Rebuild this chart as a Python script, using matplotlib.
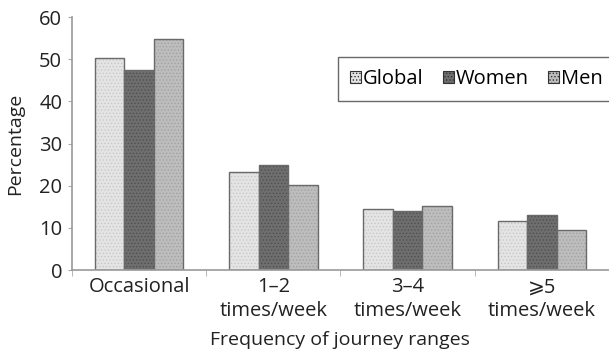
import matplotlib
matplotlib.use('Agg')
import matplotlib.pyplot as plt
import numpy as np

plt.rcParams['font.family'] = ['Open Sans', 'DejaVu Sans']
plt.rcParams['hatch.linewidth'] = 0.6

# share of journeys per frequency range
categories = ['Occasional', '1\u20132\ntimes/week', '3\u20134\ntimes/week', '\u2a7e5\ntimes/week']
global_pct = [50.2, 23.3, 14.4, 11.7]
women_pct = [47.4, 25.0, 14.0, 13.1]
men_pct = [54.7, 20.1, 15.2, 9.5]

series = [
    ('Global', global_pct, '#e4e4e4', '#c8c8c8'),
    ('Women', women_pct, '#6e6e6e', '#505050'),
    ('Men', men_pct, '#bdbdbd', '#a2a2a2'),
]

fig = plt.figure(figsize=(6.09, 3.55), dpi=100)
ax = fig.add_axes([0.118, 0.239, 0.882, 0.713])

x = np.arange(len(categories))
w = 0.22
for i, (name, vals, fc, hc) in enumerate(series):
    pos = x + (i - 1) * w
    # fill with a fine dot texture, then a plain outline on top
    ax.bar(pos, vals, w, color=fc, edgecolor=hc, hatch='.....', linewidth=0, label=name)
    ax.bar(pos, vals, w, fill=False, edgecolor='#6a6a6a', linewidth=1.0)

ax.set_xlim(-0.5, 3.5)
ax.set_ylim(0, 60)
ax.set_yticks([0, 10, 20, 30, 40, 50, 60])
ax.set_xticks(x)
ax.set_xticklabels(categories, linespacing=1.25)
ax.set_xticks(np.arange(-0.5, 4.0, 1.0), minor=True)
ax.tick_params(axis='x', which='major', length=0, pad=5, labelsize=14.5, colors='#222222')
ax.tick_params(axis='x', which='minor', length=4, color='#aaaaaa')
ax.tick_params(axis='y', length=3, width=0.8, color='#aaaaaa', pad=4, labelsize=14.5,
               labelcolor='#222222')

for s in ['top', 'right']:
    ax.spines[s].set_visible(False)
ax.spines['left'].set_color('#999999')
ax.spines['bottom'].set_color('#999999')
ax.spines['left'].set_linewidth(1.2)
ax.spines['bottom'].set_linewidth(1.2)

ax.set_ylabel('Percentage', fontsize=14, color='#222222')
ax.set_xlabel('Frequency of journey ranges', fontsize=14, color='#222222')
ax.yaxis.set_label_coords(-0.088, 0.5)
ax.xaxis.set_label_coords(0.5, -0.24)

leg = ax.legend(loc='upper left', bbox_to_anchor=(338 / 609, 1 - 57 / 355),
                bbox_transform=fig.transFigure, ncol=3, fontsize=14.5,
                frameon=True, fancybox=False, handlelength=0.55, handleheight=0.55,
                handletextpad=0.1, columnspacing=0.95, borderpad=0.6, borderaxespad=0)
leg.get_frame().set_edgecolor('#444444')
leg.get_frame().set_linewidth(1.0)
for h in leg.legend_handles:
    h.set_edgecolor('#333333')
    h.set_linewidth(0.8)

fig.savefig('out.png', dpi=100)
